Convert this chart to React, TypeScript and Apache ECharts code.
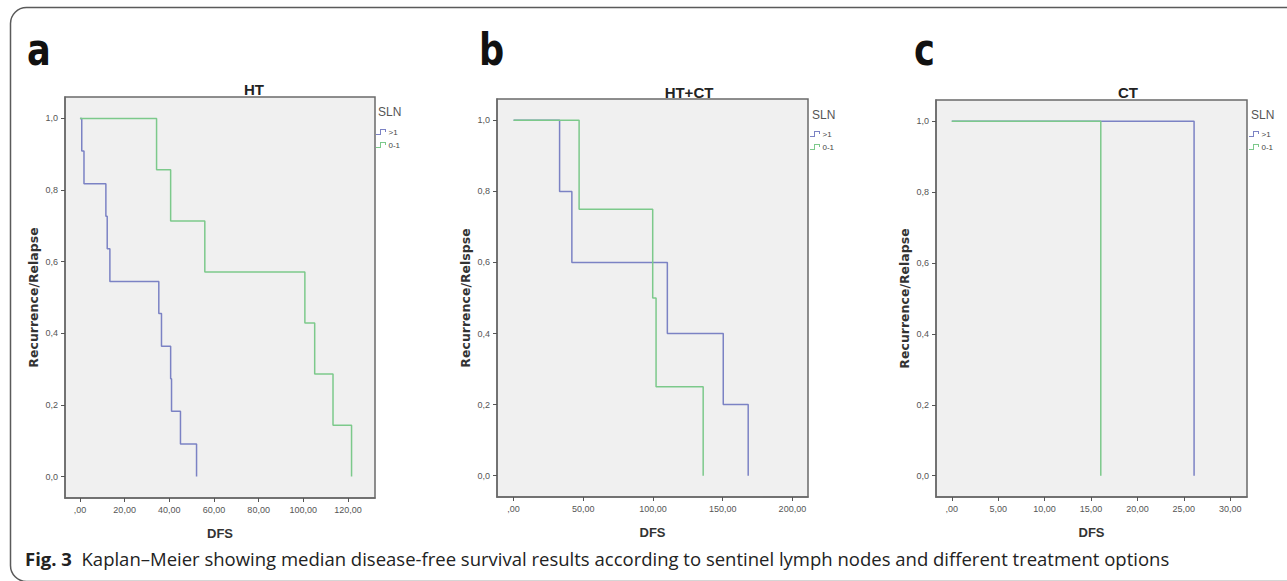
import React, { useEffect, useRef } from "react";
import * as echarts from "echarts";

// ---- data (Kaplan–Meier steps: time, survival) ----
const htTimesHigh = [0, 0.8, 1.8, 11.6, 12.2, 13.4, 35.3, 36.5, 40.6, 41.0, 45.0, 52.2];
const htSurvHigh = [1, 0.909, 0.818, 0.727, 0.636, 0.545, 0.455, 0.364, 0.273, 0.182, 0.091, 0];
const htTimesLow = [0, 34.3, 40.6, 55.9, 100.7, 105.1, 113.3, 121.6];
const htSurvLow = [1, 0.857, 0.714, 0.571, 0.429, 0.286, 0.143, 0];

const htctTimesHigh = [0, 33.0, 41.8, 110.3, 150.4, 168.3];
const htctSurvHigh = [1, 0.8, 0.6, 0.4, 0.2, 0];
const htctTimesLow = [0, 47.0, 99.8, 102.2, 136.0];
const htctSurvLow = [1, 0.75, 0.5, 0.25, 0];

const ctTimesHigh = [0, 26.1];
const ctSurvHigh = [1, 0];
const ctTimesLow = [0, 16.05];
const ctSurvLow = [1, 0];

const htTicks = [0, 20, 40, 60, 80, 100, 120];
const htctTicks = [0, 50, 100, 150, 200];
const ctTicks = [0, 5, 10, 15, 20, 25, 30];
const yTicks = [0, 0.2, 0.4, 0.6, 0.8, 1.0];

const groupNames = [">1", "0-1"];
const panelTitles = ["HT", "HT+CT", "CT"];
const panelLetters = ["a", "b", "c"];
const yTitles = ["Recurrence/Relapse", "Recurrence/Relspse", "Recurrence/Relapse"];
const xTitle = "DFS";
const legendTitle = "SLN";
const captionBold = "Fig. 3";
const captionText =
  "Kaplan–Meier showing median disease-free survival results according to sentinel lymph nodes and different treatment options";

const BLUE = "#7b82c4";
const GREEN = "#7cc98b";
const NARROW = "'Liberation Sans Narrow', 'Liberation Sans', Arial, sans-serif";

const zip = (a: number[], b: number[]) => a.map((v, i) => [v, b[i]]);
const fmtX = (v: number) => (v === 0 ? ",00" : v.toFixed(2).replace(".", ","));
const fmtY = (v: number) => v.toFixed(1).replace(".", ",");

const panels = [
  {
    grid: { left: 65, top: 97, width: 310, height: 401 },
    xMin: -6.7, xMax: 132.1, ticks: htTicks,
    high: zip(htTimesHigh, htSurvHigh), low: zip(htTimesLow, htSurvLow),
    title: { x: 254, y: 89 }, letter: { x: 27, y: 50 },
    legend: { x: 376, y: 128 }, sln: { x: 378, y: 112 },
  },
  {
    grid: { left: 497, top: 99, width: 311, height: 398 },
    xMin: -11.9, xMax: 211.2, ticks: htctTicks,
    high: zip(htctTimesHigh, htctSurvHigh), low: zip(htctTimesLow, htctSurvLow),
    title: { x: 689, y: 92 }, letter: { x: 479, y: 50 },
    legend: { x: 810, y: 130 }, sln: { x: 812, y: 115 },
  },
  {
    grid: { left: 936, top: 100, width: 311, height: 397 },
    xMin: -1.7, xMax: 31.8, ticks: ctTicks,
    high: zip(ctTimesHigh, ctSurvHigh), low: zip(ctTimesLow, ctSurvLow),
    title: { x: 1128, y: 92 }, letter: { x: 914, y: 50 },
    legend: { x: 1249, y: 130 }, sln: { x: 1251, y: 115 },
  },
];

const legendIcon = "path://M0,5 L4,5 L4,0 L10,0 L10,3 L9,3 L9,1 L5,1 L5,6 L0,6 Z";

export default function App() {
  const ref = useRef<HTMLDivElement>(null);
  useEffect(() => {
    if (!ref.current) return;
    const chart = echarts.init(ref.current, undefined, { renderer: "svg" });

    const grids: any[] = [];
    const xAxes: any[] = [];
    const yAxes: any[] = [];
    const series: any[] = [];
    const legends: any[] = [];
    const graphics: any[] = [];

    graphics.push({
      type: "rect",
      shape: { x: 10.5, y: 7.5, width: 1320, height: 574, r: [16, 0, 0, 16] },
      style: { fill: "none", stroke: "#5a5a5a", lineWidth: 1.5 },
      silent: true,
    });

    panels.forEach((p, i) => {
      grids.push({
        ...p.grid,
        show: true,
        backgroundColor: "#f0f0f0",
        borderColor: "#6a6a6a",
        borderWidth: 1.5,
        containLabel: false,
      });
      xAxes.push({
        type: "value",
        gridIndex: i,
        min: p.xMin,
        max: p.xMax,
        name: xTitle,
        nameLocation: "middle",
        nameGap: 29,
        nameTextStyle: { fontFamily: NARROW, fontWeight: "bold", fontSize: 13, color: "#333" },
        axisLine: { show: true, onZero: false, lineStyle: { color: "#6a6a6a", width: 1.5 } },
        axisTick: { show: true, length: 4, customValues: p.ticks, lineStyle: { color: "#555" } },
        axisLabel: {
          customValues: p.ticks,
          formatter: fmtX,
          margin: 7,
          fontSize: 9,
          fontFamily: NARROW,
          color: "#555",
        },
        splitLine: { show: false },
      });
      yAxes.push({
        type: "value",
        gridIndex: i,
        min: -0.06,
        max: 1.06,
        name: yTitles[i],
        nameLocation: "middle",
        nameGap: 25,
        nameTextStyle: { fontFamily: "'DejaVu Sans', sans-serif", fontWeight: "bold", fontSize: 12.5, color: "#333" },
        axisLine: { show: true, onZero: false, lineStyle: { color: "#6a6a6a", width: 1.5 } },
        axisTick: { show: true, length: 4, customValues: yTicks, lineStyle: { color: "#555" } },
        axisLabel: {
          customValues: yTicks,
          formatter: fmtY,
          margin: 7,
          fontSize: 9,
          fontFamily: NARROW,
          color: "#555",
        },
        splitLine: { show: false },
      });
      series.push({
        type: "line",
        name: groupNames[0],
        xAxisIndex: i,
        yAxisIndex: i,
        step: "end",
        symbol: "none",
        data: p.high,
        color: BLUE,
        lineStyle: { color: BLUE, width: 1.5 },
        z: 2,
      });
      series.push({
        type: "line",
        name: groupNames[1],
        xAxisIndex: i,
        yAxisIndex: i,
        step: "end",
        symbol: "none",
        data: p.low,
        color: GREEN,
        lineStyle: { color: GREEN, width: 1.5 },
        z: 3,
      });
      legends.push({
        orient: "vertical",
        left: p.legend.x,
        top: p.legend.y,
        padding: 0,
        itemWidth: 11,
        itemHeight: 6,
        itemGap: 5,
        selectedMode: false,
        data: groupNames.map((n) => ({ name: n, icon: legendIcon })),
        textStyle: { fontSize: 8, fontFamily: NARROW, color: "#444", padding: [0, 0, 0, -3] },
      });
      graphics.push({
        type: "text",
        x: p.title.x,
        y: p.title.y,
        style: {
          text: panelTitles[i],
          fontFamily: NARROW,
          fontWeight: "bold",
          fontSize: 15,
          fill: "#222",
          align: "center",
          verticalAlign: "middle",
        },
      });
      graphics.push({
        type: "text",
        x: p.sln.x,
        y: p.sln.y,
        style: {
          text: legendTitle,
          fontFamily: NARROW,
          fontSize: 12,
          fill: "#555",
          align: "left",
          verticalAlign: "middle",
        },
      });
      graphics.push({
        type: "text",
        x: p.letter.x,
        y: p.letter.y,
        scaleX: 0.8,
        style: {
          text: panelLetters[i],
          fontFamily: "'DejaVu Sans', sans-serif",
          fontWeight: "bold",
          fontSize: 44,
          fill: "#111",
          align: "left",
          verticalAlign: "middle",
        },
      });
    });

    graphics.push({
      type: "text",
      x: 25,
      y: 558,
      style: {
        text: "{b|" + captionBold + "}  " + captionText,
        fontFamily: "'Open Sans', sans-serif",
        fontSize: 18.5,
        fill: "#222",
        verticalAlign: "middle",
        rich: {
          b: { fontFamily: "'Open Sans', sans-serif", fontWeight: "bold", fontSize: 18.5, fill: "#222" },
        },
      },
    });

    chart.setOption({
      animation: false,
      backgroundColor: "#ffffff",
      grid: grids,
      xAxis: xAxes,
      yAxis: yAxes,
      series,
      legend: legends,
      graphic: graphics,
    });
    return () => chart.dispose();
  }, []);

  return (
    <div
      ref={ref}
      style={{ position: "fixed", left: 0, top: 0, width: 1287, height: 581 }}
    />
  );
}
